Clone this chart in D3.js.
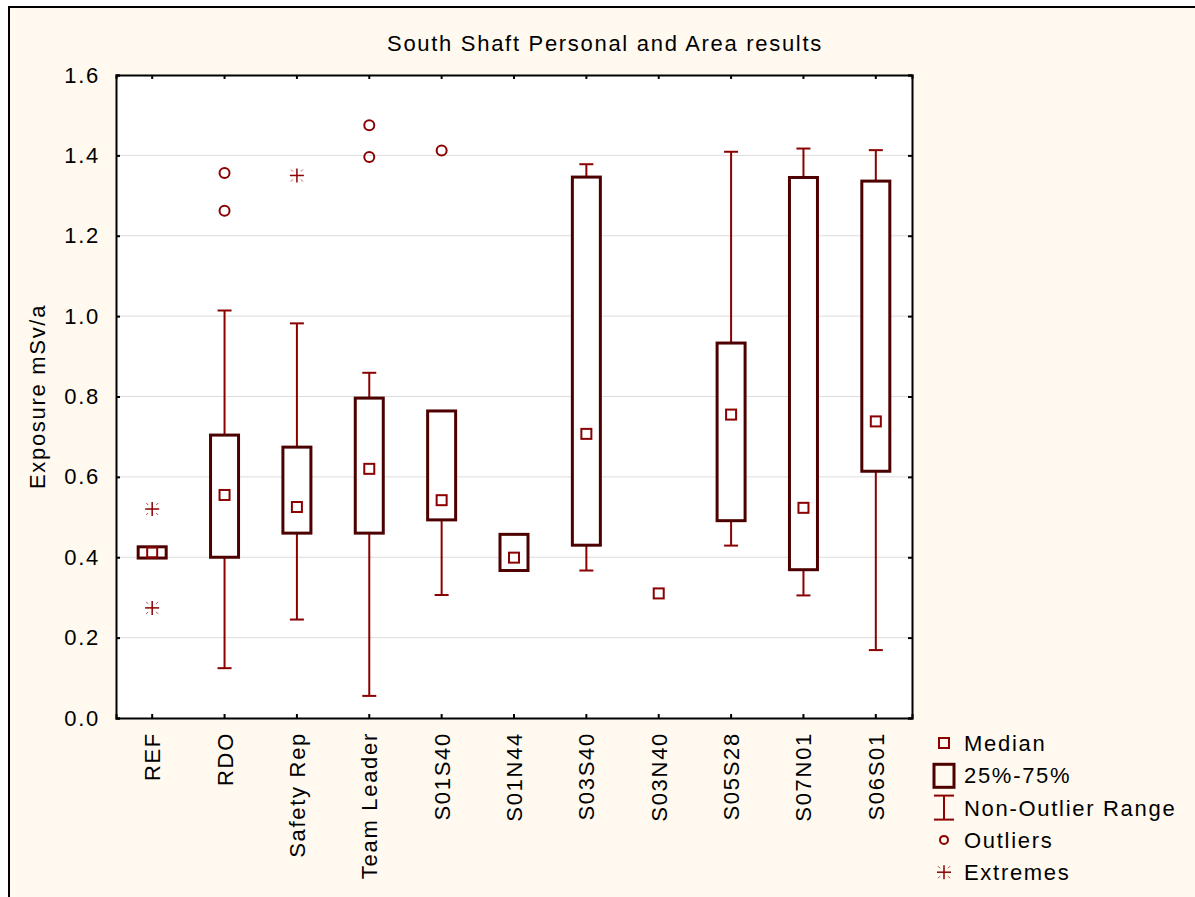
<!DOCTYPE html>
<html>
<head>
<meta charset="utf-8">
<script src="https://cdn.jsdelivr.net/npm/d3@7"></script>
<style>
  body { margin: 0; background: #fff; }
  svg text { font-family: "Liberation Sans", Arial, sans-serif; fill: #000; font-size: 22px; letter-spacing: 1.7px; }
</style>
</head>
<body>
<svg id="chart" width="1195" height="897"></svg>
<script>
// data
var categories = ["REF", "RDO", "Safety Rep", "Team Leader", "S01S40", "S01N44",
                  "S03S40", "S03N40", "S05S28", "S07N01", "S06S01"];
var medians   = [0.412, 0.555, 0.525, 0.620, 0.542, 0.399, 0.707, 0.310, 0.755, 0.523, 0.738];
var q1        = [0.398, 0.400, 0.460, 0.460, 0.493, 0.367, 0.430, null, 0.491, 0.369, 0.614];
var q3        = [0.426, 0.704, 0.674, 0.796, 0.764, 0.457, 1.346, null, 0.933, 1.345, 1.336];
var whiskLow  = [null, 0.124, 0.245, 0.055, 0.306, 0.367, 0.367, null, 0.429, 0.305, 0.169];
var whiskHigh = [null, 1.014, 0.982, 0.859, 0.764, 0.457, 1.378, null, 1.409, 1.417, 1.413];
var outliers = [
  {cat: "RDO", value: 1.356}, {cat: "RDO", value: 1.262},
  {cat: "Team Leader", value: 1.475}, {cat: "Team Leader", value: 1.396},
  {cat: "S01S40", value: 1.412}
];
var extremes = [
  {cat: "REF", value: 0.520}, {cat: "REF", value: 0.274},
  {cat: "Safety Rep", value: 1.350}
];
var yTicks = [0, 0.2, 0.4, 0.6, 0.8, 1.0, 1.2, 1.4, 1.6];
var legendItems = ["Median", "25%-75%", "Non-Outlier Range", "Outliers", "Extremes"];

var boxColor = "#4d0000";
var redColor = "#8b0000";

var svg = d3.select("#chart");

// outer frame
svg.append("rect")
    .attr("x", 9).attr("y", 7)
    .attr("width", 1200).attr("height", 900)
    .attr("fill", "#fff9ef")
    .attr("stroke", "#000")
    .attr("stroke-width", 2);

var pLeft = 116, pRight = 912, pTop = 75, pBottom = 718;

var x = d3.scaleBand().domain(categories).range([pLeft, pRight]).padding(0);
var y = d3.scaleLinear().domain([0, 1.6]).range([pBottom, pTop]);
function cx(c) { return x(c) + x.bandwidth() / 2; }

// plot area
svg.append("rect")
    .attr("x", pLeft).attr("y", pTop)
    .attr("width", pRight - pLeft).attr("height", pBottom - pTop)
    .attr("fill", "#fff");

// grid
svg.append("g").selectAll("line")
    .data(yTicks.slice(1, -1))
    .enter().append("line")
    .attr("x1", pLeft).attr("x2", pRight)
    .attr("y1", function(d) { return y(d); })
    .attr("y2", function(d) { return y(d); })
    .attr("stroke", "#dcdcdc")
    .attr("stroke-width", 1);

// axes (ticks inward)
var yAxisL = d3.axisLeft(y).tickValues(yTicks).tickFormat(d3.format(".1f")).tickSize(-4).tickPadding(16);
var yAxisR = d3.axisRight(y).tickValues(yTicks).tickSize(-4).tickFormat("");
var xAxisB = d3.axisBottom(x).tickSize(-4).tickFormat("");
var xAxisT = d3.axisTop(x).tickSize(-4).tickFormat("");

var gL = svg.append("g").attr("transform", "translate(" + pLeft + ",0)").call(yAxisL);
svg.append("g").attr("transform", "translate(" + pRight + ",0)").call(yAxisR);
svg.append("g").attr("transform", "translate(0," + pBottom + ")").call(xAxisB);
svg.append("g").attr("transform", "translate(0," + pTop + ")").call(xAxisT);

svg.selectAll(".domain").attr("stroke", "#000").attr("stroke-width", 2);
svg.selectAll(".tick line").attr("stroke", "#000").attr("stroke-width", 2);
gL.selectAll("text").attr("font-size", null).attr("font-family", null).attr("fill", "#000");

// x labels, rotated
svg.append("g").selectAll("text")
    .data(categories)
    .enter().append("text")
    .attr("transform", function(d) { return "translate(" + (cx(d) + 8) + "," + (pBottom + 14) + ") rotate(-90)"; })
    .attr("text-anchor", "end")
    .text(function(d) { return d; });

// title and y label
svg.append("text")
    .attr("x", 605).attr("y", 51)
    .attr("text-anchor", "middle")
    .text("South Shaft Personal and Area results");

svg.append("text")
    .attr("transform", "translate(45," + ((pTop + pBottom) / 2) + ") rotate(-90)")
    .attr("text-anchor", "middle")
    .text("Exposure mSv/a");

var boxW = 28, capW = 14;
var marks = svg.append("g");

categories.forEach(function(c, i) {
  var px = cx(c);
  if (whiskLow[i] != null) {
    marks.append("line")
        .attr("x1", px).attr("x2", px)
        .attr("y1", y(whiskLow[i])).attr("y2", y(whiskHigh[i]))
        .attr("stroke", redColor).attr("stroke-width", 2);
    [whiskLow[i], whiskHigh[i]].forEach(function(v) {
      marks.append("line")
          .attr("x1", px - capW / 2).attr("x2", px + capW / 2)
          .attr("y1", y(v)).attr("y2", y(v))
          .attr("stroke", redColor).attr("stroke-width", 2);
    });
  }
  if (q1[i] != null) {
    marks.append("rect")
        .attr("x", px - boxW / 2).attr("y", y(q3[i]))
        .attr("width", boxW).attr("height", y(q1[i]) - y(q3[i]))
        .attr("fill", "#fff")
        .attr("stroke", boxColor).attr("stroke-width", 3);
  }
  marks.append("rect")
      .attr("x", px - 5).attr("y", y(medians[i]) - 5)
      .attr("width", 10).attr("height", 10)
      .attr("fill", "none")
      .attr("stroke", redColor).attr("stroke-width", 2);
});

// outliers
marks.selectAll(".outlier")
    .data(outliers)
    .enter().append("circle")
    .attr("class", "outlier")
    .attr("cx", function(d) { return cx(d.cat); })
    .attr("cy", function(d) { return y(d.value); })
    .attr("r", 5)
    .attr("fill", "none")
    .attr("stroke", redColor).attr("stroke-width", 2);

function drawExtreme(g, px, py) {
  g.append("line").attr("x1", px - 7).attr("x2", px + 7).attr("y1", py).attr("y2", py)
      .attr("stroke", redColor).attr("stroke-width", 1.5);
  g.append("line").attr("x1", px).attr("x2", px).attr("y1", py - 7).attr("y2", py + 7)
      .attr("stroke", redColor).attr("stroke-width", 1.5);
  [[-1, -1], [1, -1], [-1, 1], [1, 1]].forEach(function(s) {
    g.append("line")
        .attr("x1", px + s[0] * 4).attr("y1", py + s[1] * 4)
        .attr("x2", px + s[0] * 6).attr("y2", py + s[1] * 6)
        .attr("stroke", redColor).attr("stroke-width", 1).attr("opacity", 0.7);
  });
}

extremes.forEach(function(d) { drawExtreme(marks, cx(d.cat), y(d.value)); });

// legend
var lg = svg.append("g");
var lx = 944, ly0 = 743, ldy = 32.3;
legendItems.forEach(function(t, i) {
  lg.append("text")
      .attr("x", 964).attr("y", ly0 + i * ldy + 8)
      .text(t);
});
lg.append("rect").attr("x", lx - 5).attr("y", ly0 - 5).attr("width", 10).attr("height", 10)
    .attr("fill", "none").attr("stroke", redColor).attr("stroke-width", 2);
lg.append("rect").attr("x", lx - 10).attr("y", ly0 + ldy - 11).attr("width", 20).attr("height", 23)
    .attr("fill", "none").attr("stroke", boxColor).attr("stroke-width", 3);
var iy = ly0 + 2 * ldy;
lg.append("line").attr("x1", lx).attr("x2", lx).attr("y1", iy - 12).attr("y2", iy + 12)
    .attr("stroke", redColor).attr("stroke-width", 2);
lg.append("line").attr("x1", lx - 10).attr("x2", lx + 10).attr("y1", iy - 12).attr("y2", iy - 12)
    .attr("stroke", redColor).attr("stroke-width", 2);
lg.append("line").attr("x1", lx - 10).attr("x2", lx + 10).attr("y1", iy + 12).attr("y2", iy + 12)
    .attr("stroke", redColor).attr("stroke-width", 2);
lg.append("circle").attr("cx", lx).attr("cy", ly0 + 3 * ldy).attr("r", 4)
    .attr("fill", "none").attr("stroke", redColor).attr("stroke-width", 2);
drawExtreme(lg, lx, ly0 + 4 * ldy);
</script>
</body>
</html>
